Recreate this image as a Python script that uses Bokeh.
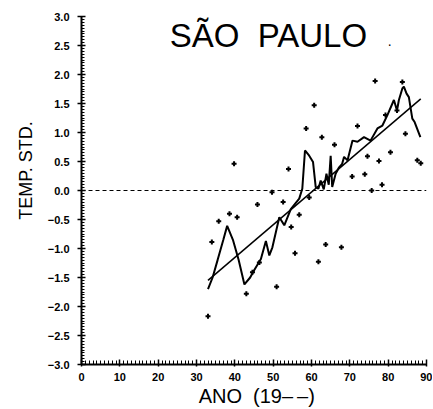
import math
from bokeh.plotting import figure
from bokeh.models import Label, FixedTicker, Range1d
from bokeh.embed import file_html
from bokeh.resources import INLINE

# annual standardized temperature (scatter)
pt_years = [33, 34, 35.8, 38.6, 39.8, 40.6, 43, 44.6, 45.9, 46.4, 49.7, 50.9,
            52.6, 54, 54.7, 55.7, 56.8, 58.6, 59.4, 60.7, 61.8, 62.7, 63.7, 66,
            67.8, 70.6, 72, 73.9, 74.6, 75.7, 76.6, 77.6, 78.4, 79.3, 80.6, 82.3,
            83.7, 84.5, 87.6, 88.5]
pt_values = [-2.17, -0.89, -0.53, -0.40, 0.46, -0.46, -1.78, -1.41, -0.24, -1.24,
             -0.03, -1.66, -0.20, 0.37, -0.63, -1.08, -0.42, 1.07, -0.12, 1.47,
             -1.23, 0.92, -0.93, 0.79, -0.98, 0.24, 1.11, 0.28, 0.59, 0.00, 1.89,
             0.51, 0.10, 1.30, 0.66, 1.38, 1.87, 0.98, 0.52, 0.47]

# smoothed curve
sm_years = [33, 34.2, 35.5, 37, 38, 39.5, 41, 42.5, 44, 45, 46.8, 48.1, 49, 49.8,
            51.6, 52.9, 54.6, 56.8, 57.6, 58.3, 59.4, 60.4, 61.1, 61.8, 62.4,
            63.2, 63.9, 64.5, 65.0, 65.4, 66.3, 67.2, 68.0, 68.5, 69.4, 70.7, 72,
            73.7, 75.4, 77.2, 78.5, 79.8, 81.5, 82.3, 82.8, 83.7, 84.1, 84.8, 85.4,
            86.3, 86.9, 88.4]
sm_values = [-1.70, -1.50, -1.20, -0.85, -0.61, -0.85, -1.20, -1.62, -1.50, -1.38,
             -1.18, -0.87, -1.12, -0.98, -0.46, -0.60, -0.32, -0.14, 0.03, 0.69,
             0.60, 0.49, 0.06, 0.03, 0.17, 0.02, 0.29, 0.10, 0.60, 0.06, 0.29,
             0.40, 0.46, 0.58, 0.52, 0.86, 0.84, 0.92, 0.86, 1.07, 1.12, 1.30, 1.56,
             1.38, 1.56, 1.76, 1.79, 1.67, 1.61, 1.24, 1.18, 0.92]

# linear trend end points
tr_years = [33, 88.5]
tr_values = [-1.55, 1.58]

y_ticks = [-3.0, -2.5, -2.0, -1.5, -1.0, -0.5, 0.0, 0.5, 1.0, 1.5, 2.0, 2.5, 3.0]
y_tick_labels = ["\u22123.0", "\u22122.5", "\u22122.0", "\u22121.5", "\u22121.0",
                 "\u22120.5", "0.0", "0.5", "1.0", "1.5", "2.0", "2.5", "3.0"]
x_ticks = [0, 10, 20, 30, 40, 50, 60, 70, 80, 90]
x_tick_labels = ["0", "10", "20", "30", "40", "50", "60", "70", "80", "90"]

NB = "\u00a0"
title_text = "SÃO" + NB * 2 + "PAULO"
y_label_text = NB * 8 + "TEMP." + NB + "STD."
x_label_text = NB * 1 + "ANO" + NB * 2 + "(19\u2013\u2009\u2013)"

p = figure(width=432, height=409, output_backend="svg", toolbar_location=None,
           x_range=Range1d(0, 90), y_range=Range1d(-3, 3),
           min_border_left=81, min_border_right=6, min_border_top=16,
           min_border_bottom=44, background_fill_color="white",
           border_fill_color="white")
p.outline_line_color = None
p.grid.visible = False

p.xaxis.ticker = FixedTicker(ticks=x_ticks,
                             minor_ticks=[float(v) for v in range(0, 91)])
p.yaxis.ticker = FixedTicker(ticks=y_ticks,
                             minor_ticks=[round(-3 + 0.05 * i, 2) for i in range(121)])
p.xaxis.major_label_overrides = {t: l for t, l in zip(x_ticks, x_tick_labels)}
p.yaxis.major_label_overrides = {t: l for t, l in zip(y_ticks, y_tick_labels)}

for ax in (p.xaxis, p.yaxis):
    ax.axis_line_width = 2
    ax.axis_line_color = "black"
    ax.major_tick_line_color = "black"
    ax.minor_tick_line_color = "black"
    ax.major_tick_line_width = 1.5
    ax.minor_tick_line_width = 1
    ax.major_label_text_font = "Liberation Sans"
    ax.major_label_text_font_style = "bold"
    ax.major_label_text_font_size = "11px"
    ax.major_label_text_color = "black"
    ax.axis_label_text_font = "Liberation Sans"
    ax.axis_label_text_font_style = "normal"
    ax.axis_label_text_color = "black"

p.yaxis.major_tick_out = 4
p.yaxis.major_tick_in = 4
p.yaxis.minor_tick_out = 0
p.yaxis.minor_tick_in = 3
p.yaxis.major_label_standoff = 8
p.yaxis.axis_label = y_label_text
p.yaxis.axis_label_text_font_size = "18px"
p.yaxis.axis_label_standoff = 9

p.xaxis.major_tick_out = 2
p.xaxis.major_tick_in = 5
p.xaxis.minor_tick_out = 0
p.xaxis.minor_tick_in = 4
p.xaxis.major_label_standoff = 6
p.xaxis.axis_label = x_label_text
p.xaxis.axis_label_text_font_size = "20px"
p.xaxis.axis_label_standoff = 1

# zero reference line
p.line([0, 90], [0, 0], line_color="black", line_width=1, line_dash="4 3")

# trend line
p.line(tr_years, tr_values, line_color="black", line_width=1.5)
# smoothed curve
p.line(sm_years, sm_values, line_color="black", line_width=2)
# annual points
p.scatter(pt_years, pt_values, marker="cross", size=5, line_width=2,
          line_color="black")

p.add_layout(Label(x=23, y=3.0, text=title_text, text_font="Liberation Sans",
                   text_font_size="33px", text_color="black",
                   text_baseline="top"))
p.add_layout(Label(x=79.9, y=2.5, text=".", text_font="Liberation Sans",
                   text_font_size="14px", text_color="black"))

open("out.html", "w").write(file_html(p, INLINE))
